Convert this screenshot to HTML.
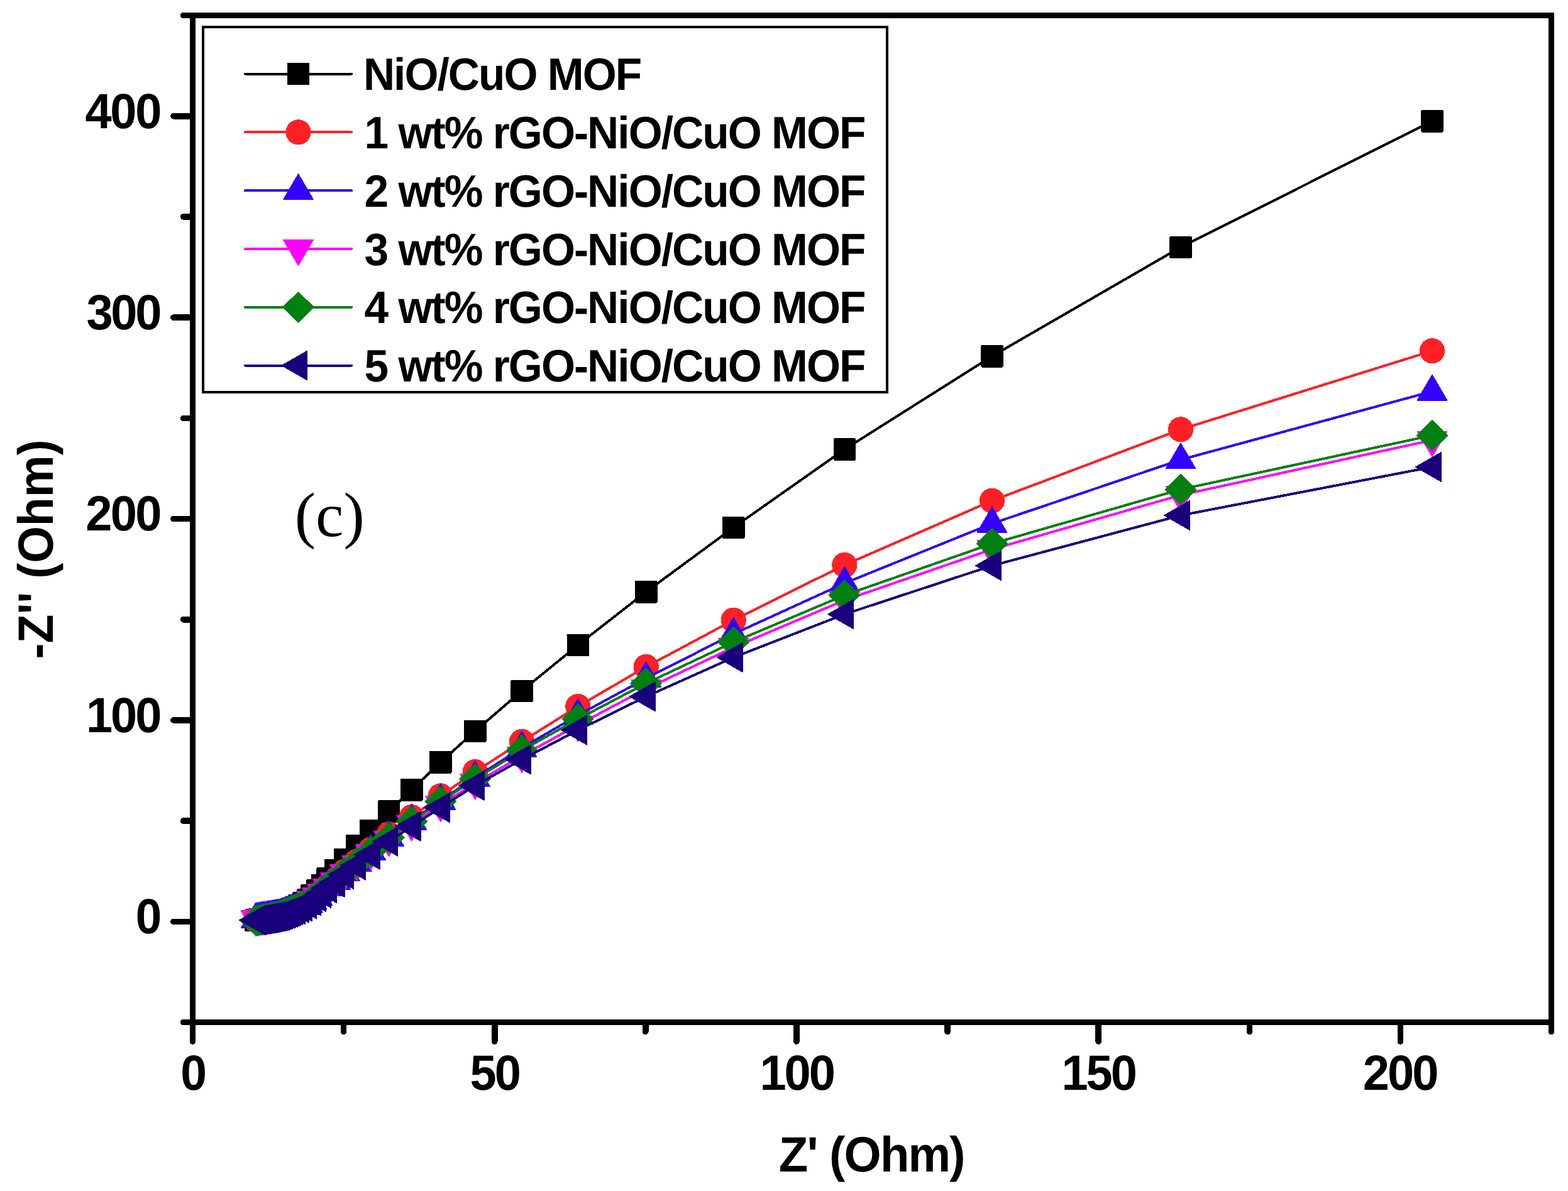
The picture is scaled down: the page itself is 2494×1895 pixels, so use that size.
<!DOCTYPE html>
<html lang="en"><head><meta charset="utf-8"><title>Nyquist plot (c)</title>
<style>
html,body{margin:0;padding:0;background:#fff;}
body{width:2494px;height:1895px;overflow:hidden;}
svg{display:block;}
text{font-family:"Liberation Sans",Arial,Helvetica,sans-serif;font-weight:bold;fill:#000;white-space:pre;}
.ann{font-family:"Liberation Serif","Times New Roman",serif;font-weight:normal;font-size:100px;}
</style></head><body>
<svg width="2494" height="1895" viewBox="0 0 2494 1895" shape-rendering="crispEdges" text-rendering="geometricPrecision">
<rect width="2494" height="1895" fill="#fff"/>

<g id="data">
<path d="M2278.0 192.7L1878.0 393.3L1578.0 566.7L1343.3 715.0L1166.7 839.3L1027.7 941.7L919.3 1026.3L830.0 1099.3L755.7 1163.3L700.8 1212.7L654.7 1256.7L618.6 1291.0L589.7 1321.7L567.5 1345.8L548.5 1367.5L533.7 1384.7L521.2 1398.0L512.5 1408.8L504.6 1417.0L495.8 1425.0L489.6 1432.0L482.4 1437.0L476.7 1440.8L471.0 1444.5L467.6 1445.9L464.6 1447.1L461.8 1448.3L459.1 1449.4L456.5 1450.6L453.9 1451.7L451.4 1452.8L448.8 1453.9L446.4 1455.0L443.9 1455.9L441.5 1456.5L439.1 1457.1L436.7 1457.7L434.3 1458.3L432.0 1458.9L429.7 1459.4L427.3 1460.0L425.0 1460.4L422.7 1460.9L420.5 1461.4L418.2 1461.9L415.9 1462.3L413.7 1462.8L411.4 1463.3L409.2 1463.7L407.0 1464.2" fill="none" stroke="#000000" stroke-width="4.0" stroke-linejoin="round" stroke-linecap="round"/>
<rect x="2260.2" y="174.9" width="35.6" height="35.6" rx="2" fill="#000000"/>
<rect x="1860.2" y="375.5" width="35.6" height="35.6" rx="2" fill="#000000"/>
<rect x="1560.2" y="548.9" width="35.6" height="35.6" rx="2" fill="#000000"/>
<rect x="1325.5" y="697.2" width="35.6" height="35.6" rx="2" fill="#000000"/>
<rect x="1148.9" y="821.5" width="35.6" height="35.6" rx="2" fill="#000000"/>
<rect x="1009.9" y="923.9" width="35.6" height="35.6" rx="2" fill="#000000"/>
<rect x="901.5" y="1008.5" width="35.6" height="35.6" rx="2" fill="#000000"/>
<rect x="812.2" y="1081.5" width="35.6" height="35.6" rx="2" fill="#000000"/>
<rect x="737.9" y="1145.5" width="35.6" height="35.6" rx="2" fill="#000000"/>
<rect x="683.0" y="1194.9" width="35.6" height="35.6" rx="2" fill="#000000"/>
<rect x="636.9" y="1238.9" width="35.6" height="35.6" rx="2" fill="#000000"/>
<rect x="600.8" y="1273.2" width="35.6" height="35.6" rx="2" fill="#000000"/>
<rect x="571.9" y="1303.9" width="35.6" height="35.6" rx="2" fill="#000000"/>
<rect x="549.7" y="1328.0" width="35.6" height="35.6" rx="2" fill="#000000"/>
<rect x="530.7" y="1349.7" width="35.6" height="35.6" rx="2" fill="#000000"/>
<rect x="515.9" y="1366.9" width="35.6" height="35.6" rx="2" fill="#000000"/>
<rect x="503.4" y="1380.2" width="35.6" height="35.6" rx="2" fill="#000000"/>
<rect x="494.7" y="1391.0" width="35.6" height="35.6" rx="2" fill="#000000"/>
<rect x="486.8" y="1399.2" width="35.6" height="35.6" rx="2" fill="#000000"/>
<rect x="478.0" y="1407.2" width="35.6" height="35.6" rx="2" fill="#000000"/>
<rect x="471.8" y="1414.2" width="35.6" height="35.6" rx="2" fill="#000000"/>
<rect x="464.6" y="1419.2" width="35.6" height="35.6" rx="2" fill="#000000"/>
<rect x="458.9" y="1423.0" width="35.6" height="35.6" rx="2" fill="#000000"/>
<rect x="453.2" y="1426.7" width="35.6" height="35.6" rx="2" fill="#000000"/>
<rect x="449.8" y="1428.1" width="35.6" height="35.6" rx="2" fill="#000000"/>
<rect x="446.8" y="1429.3" width="35.6" height="35.6" rx="2" fill="#000000"/>
<rect x="444.0" y="1430.5" width="35.6" height="35.6" rx="2" fill="#000000"/>
<rect x="441.3" y="1431.6" width="35.6" height="35.6" rx="2" fill="#000000"/>
<rect x="438.7" y="1432.8" width="35.6" height="35.6" rx="2" fill="#000000"/>
<rect x="436.1" y="1433.9" width="35.6" height="35.6" rx="2" fill="#000000"/>
<rect x="433.6" y="1435.0" width="35.6" height="35.6" rx="2" fill="#000000"/>
<rect x="431.0" y="1436.1" width="35.6" height="35.6" rx="2" fill="#000000"/>
<rect x="428.6" y="1437.2" width="35.6" height="35.6" rx="2" fill="#000000"/>
<rect x="426.1" y="1438.1" width="35.6" height="35.6" rx="2" fill="#000000"/>
<rect x="423.7" y="1438.7" width="35.6" height="35.6" rx="2" fill="#000000"/>
<rect x="421.3" y="1439.3" width="35.6" height="35.6" rx="2" fill="#000000"/>
<rect x="418.9" y="1439.9" width="35.6" height="35.6" rx="2" fill="#000000"/>
<rect x="416.5" y="1440.5" width="35.6" height="35.6" rx="2" fill="#000000"/>
<rect x="414.2" y="1441.1" width="35.6" height="35.6" rx="2" fill="#000000"/>
<rect x="411.9" y="1441.6" width="35.6" height="35.6" rx="2" fill="#000000"/>
<rect x="409.5" y="1442.2" width="35.6" height="35.6" rx="2" fill="#000000"/>
<rect x="407.2" y="1442.6" width="35.6" height="35.6" rx="2" fill="#000000"/>
<rect x="404.9" y="1443.1" width="35.6" height="35.6" rx="2" fill="#000000"/>
<rect x="402.7" y="1443.6" width="35.6" height="35.6" rx="2" fill="#000000"/>
<rect x="400.4" y="1444.1" width="35.6" height="35.6" rx="2" fill="#000000"/>
<rect x="398.1" y="1444.5" width="35.6" height="35.6" rx="2" fill="#000000"/>
<rect x="395.9" y="1445.0" width="35.6" height="35.6" rx="2" fill="#000000"/>
<rect x="393.6" y="1445.5" width="35.6" height="35.6" rx="2" fill="#000000"/>
<rect x="391.4" y="1445.9" width="35.6" height="35.6" rx="2" fill="#000000"/>
<rect x="389.2" y="1446.4" width="35.6" height="35.6" rx="2" fill="#000000"/>
<path d="M2278.0 558.3L1878.0 683.3L1578.0 796.7L1343.3 899.0L1166.7 986.7L1027.7 1061.0L919.3 1124.0L830.0 1180.0L755.7 1228.0L700.8 1266.3L654.7 1300.0L618.6 1327.3L589.7 1351.7L567.5 1370.7L548.5 1386.3L533.7 1400.2L521.2 1410.2L512.5 1418.9L504.6 1425.5L495.8 1431.8L489.6 1437.6L482.4 1441.4L476.7 1444.1L471.0 1446.8L467.6 1448.0L464.6 1449.1L461.8 1450.2L459.1 1451.3L456.5 1452.3L453.9 1453.3L451.4 1454.4L448.8 1455.4L446.4 1456.4L443.9 1457.1L441.5 1457.6L439.1 1458.1L436.7 1458.6L434.3 1459.1L432.0 1459.6L429.7 1460.1L427.3 1460.6L425.0 1460.9L422.7 1461.3L420.5 1461.7L418.2 1462.1L415.9 1462.5L413.7 1462.9L411.4 1463.2L409.2 1463.6L407.0 1464.0" fill="none" stroke="#FF2026" stroke-width="4.0" stroke-linejoin="round" stroke-linecap="round"/>
<circle cx="2278.0" cy="558.3" r="20.1" fill="#FF2026"/>
<circle cx="1878.0" cy="683.3" r="20.1" fill="#FF2026"/>
<circle cx="1578.0" cy="796.7" r="20.1" fill="#FF2026"/>
<circle cx="1343.3" cy="899.0" r="20.1" fill="#FF2026"/>
<circle cx="1166.7" cy="986.7" r="20.1" fill="#FF2026"/>
<circle cx="1027.7" cy="1061.0" r="20.1" fill="#FF2026"/>
<circle cx="919.3" cy="1124.0" r="20.1" fill="#FF2026"/>
<circle cx="830.0" cy="1180.0" r="20.1" fill="#FF2026"/>
<circle cx="755.7" cy="1228.0" r="20.1" fill="#FF2026"/>
<circle cx="700.8" cy="1266.3" r="20.1" fill="#FF2026"/>
<circle cx="654.7" cy="1300.0" r="20.1" fill="#FF2026"/>
<circle cx="618.6" cy="1327.3" r="20.1" fill="#FF2026"/>
<circle cx="589.7" cy="1351.7" r="20.1" fill="#FF2026"/>
<circle cx="567.5" cy="1370.7" r="20.1" fill="#FF2026"/>
<circle cx="548.5" cy="1386.3" r="20.1" fill="#FF2026"/>
<circle cx="533.7" cy="1400.2" r="20.1" fill="#FF2026"/>
<circle cx="521.2" cy="1410.2" r="20.1" fill="#FF2026"/>
<circle cx="512.5" cy="1418.9" r="20.1" fill="#FF2026"/>
<circle cx="504.6" cy="1425.5" r="20.1" fill="#FF2026"/>
<circle cx="495.8" cy="1431.8" r="20.1" fill="#FF2026"/>
<circle cx="489.6" cy="1437.6" r="20.1" fill="#FF2026"/>
<circle cx="482.4" cy="1441.4" r="20.1" fill="#FF2026"/>
<circle cx="476.7" cy="1444.1" r="20.1" fill="#FF2026"/>
<circle cx="471.0" cy="1446.8" r="20.1" fill="#FF2026"/>
<circle cx="467.6" cy="1448.0" r="20.1" fill="#FF2026"/>
<circle cx="464.6" cy="1449.1" r="20.1" fill="#FF2026"/>
<circle cx="461.8" cy="1450.2" r="20.1" fill="#FF2026"/>
<circle cx="459.1" cy="1451.3" r="20.1" fill="#FF2026"/>
<circle cx="456.5" cy="1452.3" r="20.1" fill="#FF2026"/>
<circle cx="453.9" cy="1453.3" r="20.1" fill="#FF2026"/>
<circle cx="451.4" cy="1454.4" r="20.1" fill="#FF2026"/>
<circle cx="448.8" cy="1455.4" r="20.1" fill="#FF2026"/>
<circle cx="446.4" cy="1456.4" r="20.1" fill="#FF2026"/>
<circle cx="443.9" cy="1457.1" r="20.1" fill="#FF2026"/>
<circle cx="441.5" cy="1457.6" r="20.1" fill="#FF2026"/>
<circle cx="439.1" cy="1458.1" r="20.1" fill="#FF2026"/>
<circle cx="436.7" cy="1458.6" r="20.1" fill="#FF2026"/>
<circle cx="434.3" cy="1459.1" r="20.1" fill="#FF2026"/>
<circle cx="432.0" cy="1459.6" r="20.1" fill="#FF2026"/>
<circle cx="429.7" cy="1460.1" r="20.1" fill="#FF2026"/>
<circle cx="427.3" cy="1460.6" r="20.1" fill="#FF2026"/>
<circle cx="425.0" cy="1460.9" r="20.1" fill="#FF2026"/>
<circle cx="422.7" cy="1461.3" r="20.1" fill="#FF2026"/>
<circle cx="420.5" cy="1461.7" r="20.1" fill="#FF2026"/>
<circle cx="418.2" cy="1462.1" r="20.1" fill="#FF2026"/>
<circle cx="415.9" cy="1462.5" r="20.1" fill="#FF2026"/>
<circle cx="413.7" cy="1462.9" r="20.1" fill="#FF2026"/>
<circle cx="411.4" cy="1463.2" r="20.1" fill="#FF2026"/>
<circle cx="409.2" cy="1463.6" r="20.1" fill="#FF2026"/>
<circle cx="407.0" cy="1464.0" r="20.1" fill="#FF2026"/>
<path d="M2278.0 622.7L1878.0 731.5L1578.0 833.0L1343.3 928.0L1166.7 1008.7L1027.7 1079.3L919.3 1138.0L830.0 1190.0L755.7 1237.3L700.8 1273.7L654.7 1305.8L618.6 1331.8L589.7 1354.0L567.5 1372.4L548.5 1387.5L533.7 1401.0L521.2 1410.8L512.5 1419.3L504.6 1425.8L495.8 1432.0L489.6 1437.7L482.4 1441.5L476.7 1444.2L471.0 1446.8L467.6 1448.0L464.6 1449.0L461.8 1450.0L459.1 1451.0L456.5 1452.0L453.9 1453.0L451.4 1453.9L448.8 1454.9L446.4 1455.8L443.9 1456.5L441.5 1457.0L439.1 1457.4L436.7 1457.8L434.3 1458.3L432.0 1458.7L429.7 1459.1L427.3 1459.5L425.0 1459.9L422.7 1460.2L420.5 1460.5L418.2 1460.9L415.9 1461.2L413.7 1461.5L411.4 1461.9L409.2 1462.2L407.0 1462.5" fill="none" stroke="#3300FF" stroke-width="4.0" stroke-linejoin="round" stroke-linecap="round"/>
<path d="M2278.0 596.2L2301.8 636.9L2254.2 636.9Z" fill="#3300FF" stroke="#3300FF" stroke-width="1.2" stroke-linejoin="round"/>
<path d="M1878.0 705.0L1901.8 745.7L1854.2 745.7Z" fill="#3300FF" stroke="#3300FF" stroke-width="1.2" stroke-linejoin="round"/>
<path d="M1578.0 806.5L1601.8 847.2L1554.2 847.2Z" fill="#3300FF" stroke="#3300FF" stroke-width="1.2" stroke-linejoin="round"/>
<path d="M1343.3 901.5L1367.1 942.2L1319.5 942.2Z" fill="#3300FF" stroke="#3300FF" stroke-width="1.2" stroke-linejoin="round"/>
<path d="M1166.7 982.2L1190.5 1022.9L1142.9 1022.9Z" fill="#3300FF" stroke="#3300FF" stroke-width="1.2" stroke-linejoin="round"/>
<path d="M1027.7 1052.8L1051.5 1093.5L1003.9 1093.5Z" fill="#3300FF" stroke="#3300FF" stroke-width="1.2" stroke-linejoin="round"/>
<path d="M919.3 1111.5L943.1 1152.2L895.5 1152.2Z" fill="#3300FF" stroke="#3300FF" stroke-width="1.2" stroke-linejoin="round"/>
<path d="M830.0 1163.5L853.8 1204.2L806.2 1204.2Z" fill="#3300FF" stroke="#3300FF" stroke-width="1.2" stroke-linejoin="round"/>
<path d="M755.7 1210.8L779.5 1251.5L731.9 1251.5Z" fill="#3300FF" stroke="#3300FF" stroke-width="1.2" stroke-linejoin="round"/>
<path d="M700.8 1247.2L724.6 1287.9L677.0 1287.9Z" fill="#3300FF" stroke="#3300FF" stroke-width="1.2" stroke-linejoin="round"/>
<path d="M654.7 1279.3L678.5 1320.0L630.9 1320.0Z" fill="#3300FF" stroke="#3300FF" stroke-width="1.2" stroke-linejoin="round"/>
<path d="M618.6 1305.3L642.4 1346.0L594.8 1346.0Z" fill="#3300FF" stroke="#3300FF" stroke-width="1.2" stroke-linejoin="round"/>
<path d="M589.7 1327.5L613.5 1368.2L565.9 1368.2Z" fill="#3300FF" stroke="#3300FF" stroke-width="1.2" stroke-linejoin="round"/>
<path d="M567.5 1345.9L591.3 1386.6L543.7 1386.6Z" fill="#3300FF" stroke="#3300FF" stroke-width="1.2" stroke-linejoin="round"/>
<path d="M548.5 1361.0L572.3 1401.7L524.7 1401.7Z" fill="#3300FF" stroke="#3300FF" stroke-width="1.2" stroke-linejoin="round"/>
<path d="M533.7 1374.5L557.5 1415.2L509.9 1415.2Z" fill="#3300FF" stroke="#3300FF" stroke-width="1.2" stroke-linejoin="round"/>
<path d="M521.2 1384.3L545.0 1425.0L497.4 1425.0Z" fill="#3300FF" stroke="#3300FF" stroke-width="1.2" stroke-linejoin="round"/>
<path d="M512.5 1392.8L536.3 1433.5L488.7 1433.5Z" fill="#3300FF" stroke="#3300FF" stroke-width="1.2" stroke-linejoin="round"/>
<path d="M504.6 1399.3L528.4 1440.0L480.8 1440.0Z" fill="#3300FF" stroke="#3300FF" stroke-width="1.2" stroke-linejoin="round"/>
<path d="M495.8 1405.5L519.6 1446.2L472.0 1446.2Z" fill="#3300FF" stroke="#3300FF" stroke-width="1.2" stroke-linejoin="round"/>
<path d="M489.6 1411.2L513.4 1451.9L465.8 1451.9Z" fill="#3300FF" stroke="#3300FF" stroke-width="1.2" stroke-linejoin="round"/>
<path d="M482.4 1415.0L506.2 1455.7L458.6 1455.7Z" fill="#3300FF" stroke="#3300FF" stroke-width="1.2" stroke-linejoin="round"/>
<path d="M476.7 1417.7L500.5 1458.4L452.9 1458.4Z" fill="#3300FF" stroke="#3300FF" stroke-width="1.2" stroke-linejoin="round"/>
<path d="M471.0 1420.3L494.8 1461.0L447.2 1461.0Z" fill="#3300FF" stroke="#3300FF" stroke-width="1.2" stroke-linejoin="round"/>
<path d="M467.6 1421.5L491.4 1462.2L443.8 1462.2Z" fill="#3300FF" stroke="#3300FF" stroke-width="1.2" stroke-linejoin="round"/>
<path d="M464.6 1422.5L488.4 1463.2L440.8 1463.2Z" fill="#3300FF" stroke="#3300FF" stroke-width="1.2" stroke-linejoin="round"/>
<path d="M461.8 1423.5L485.6 1464.2L438.0 1464.2Z" fill="#3300FF" stroke="#3300FF" stroke-width="1.2" stroke-linejoin="round"/>
<path d="M459.1 1424.5L482.9 1465.2L435.3 1465.2Z" fill="#3300FF" stroke="#3300FF" stroke-width="1.2" stroke-linejoin="round"/>
<path d="M456.5 1425.5L480.3 1466.2L432.7 1466.2Z" fill="#3300FF" stroke="#3300FF" stroke-width="1.2" stroke-linejoin="round"/>
<path d="M453.9 1426.5L477.7 1467.2L430.1 1467.2Z" fill="#3300FF" stroke="#3300FF" stroke-width="1.2" stroke-linejoin="round"/>
<path d="M451.4 1427.4L475.2 1468.1L427.6 1468.1Z" fill="#3300FF" stroke="#3300FF" stroke-width="1.2" stroke-linejoin="round"/>
<path d="M448.8 1428.4L472.6 1469.1L425.0 1469.1Z" fill="#3300FF" stroke="#3300FF" stroke-width="1.2" stroke-linejoin="round"/>
<path d="M446.4 1429.3L470.2 1470.0L422.6 1470.0Z" fill="#3300FF" stroke="#3300FF" stroke-width="1.2" stroke-linejoin="round"/>
<path d="M443.9 1430.0L467.7 1470.7L420.1 1470.7Z" fill="#3300FF" stroke="#3300FF" stroke-width="1.2" stroke-linejoin="round"/>
<path d="M441.5 1430.5L465.3 1471.2L417.7 1471.2Z" fill="#3300FF" stroke="#3300FF" stroke-width="1.2" stroke-linejoin="round"/>
<path d="M439.1 1430.9L462.9 1471.6L415.3 1471.6Z" fill="#3300FF" stroke="#3300FF" stroke-width="1.2" stroke-linejoin="round"/>
<path d="M436.7 1431.3L460.5 1472.0L412.9 1472.0Z" fill="#3300FF" stroke="#3300FF" stroke-width="1.2" stroke-linejoin="round"/>
<path d="M434.3 1431.8L458.1 1472.5L410.5 1472.5Z" fill="#3300FF" stroke="#3300FF" stroke-width="1.2" stroke-linejoin="round"/>
<path d="M432.0 1432.2L455.8 1472.9L408.2 1472.9Z" fill="#3300FF" stroke="#3300FF" stroke-width="1.2" stroke-linejoin="round"/>
<path d="M429.7 1432.6L453.5 1473.3L405.9 1473.3Z" fill="#3300FF" stroke="#3300FF" stroke-width="1.2" stroke-linejoin="round"/>
<path d="M427.3 1433.0L451.1 1473.7L403.5 1473.7Z" fill="#3300FF" stroke="#3300FF" stroke-width="1.2" stroke-linejoin="round"/>
<path d="M425.0 1433.4L448.8 1474.1L401.2 1474.1Z" fill="#3300FF" stroke="#3300FF" stroke-width="1.2" stroke-linejoin="round"/>
<path d="M422.7 1433.7L446.5 1474.4L398.9 1474.4Z" fill="#3300FF" stroke="#3300FF" stroke-width="1.2" stroke-linejoin="round"/>
<path d="M420.5 1434.0L444.3 1474.7L396.7 1474.7Z" fill="#3300FF" stroke="#3300FF" stroke-width="1.2" stroke-linejoin="round"/>
<path d="M418.2 1434.4L442.0 1475.1L394.4 1475.1Z" fill="#3300FF" stroke="#3300FF" stroke-width="1.2" stroke-linejoin="round"/>
<path d="M415.9 1434.7L439.7 1475.4L392.1 1475.4Z" fill="#3300FF" stroke="#3300FF" stroke-width="1.2" stroke-linejoin="round"/>
<path d="M413.7 1435.0L437.5 1475.7L389.9 1475.7Z" fill="#3300FF" stroke="#3300FF" stroke-width="1.2" stroke-linejoin="round"/>
<path d="M411.4 1435.4L435.2 1476.1L387.6 1476.1Z" fill="#3300FF" stroke="#3300FF" stroke-width="1.2" stroke-linejoin="round"/>
<path d="M409.2 1435.7L433.0 1476.4L385.4 1476.4Z" fill="#3300FF" stroke="#3300FF" stroke-width="1.2" stroke-linejoin="round"/>
<path d="M407.0 1436.0L430.8 1476.7L383.2 1476.7Z" fill="#3300FF" stroke="#3300FF" stroke-width="1.2" stroke-linejoin="round"/>
<path d="M2278.0 700.3L1878.0 787.7L1578.0 874.0L1343.3 955.0L1166.7 1030.0L1027.7 1096.0L919.3 1153.3L830.0 1202.8L755.7 1245.8L700.8 1281.0L654.7 1311.6L618.6 1336.4L589.7 1357.8L567.5 1375.4L548.5 1389.9L533.7 1403.0L521.2 1412.4L512.5 1420.5L504.6 1426.8L495.8 1432.8L489.6 1438.4L482.4 1442.0L476.7 1444.6L471.0 1447.1L467.6 1448.3L464.6 1449.4L461.8 1450.4L459.1 1451.4L456.5 1452.4L453.9 1453.4L451.4 1454.4L448.8 1455.3L446.4 1456.3L443.9 1457.0L441.5 1457.5L439.1 1457.9L436.7 1458.4L434.3 1458.8L432.0 1459.3L429.7 1459.7L427.3 1460.1L425.0 1460.5L422.7 1460.8L420.5 1461.2L418.2 1461.5L415.9 1461.8L413.7 1462.2L411.4 1462.5L409.2 1462.9L407.0 1463.2" fill="none" stroke="#FF00FF" stroke-width="4.0" stroke-linejoin="round" stroke-linecap="round"/>
<path d="M2278.0 726.8L2301.8 686.1L2254.2 686.1Z" fill="#FF00FF" stroke="#FF00FF" stroke-width="1.2" stroke-linejoin="round"/>
<path d="M1878.0 814.2L1901.8 773.5L1854.2 773.5Z" fill="#FF00FF" stroke="#FF00FF" stroke-width="1.2" stroke-linejoin="round"/>
<path d="M1578.0 900.5L1601.8 859.8L1554.2 859.8Z" fill="#FF00FF" stroke="#FF00FF" stroke-width="1.2" stroke-linejoin="round"/>
<path d="M1343.3 981.5L1367.1 940.8L1319.5 940.8Z" fill="#FF00FF" stroke="#FF00FF" stroke-width="1.2" stroke-linejoin="round"/>
<path d="M1166.7 1056.5L1190.5 1015.8L1142.9 1015.8Z" fill="#FF00FF" stroke="#FF00FF" stroke-width="1.2" stroke-linejoin="round"/>
<path d="M1027.7 1122.5L1051.5 1081.8L1003.9 1081.8Z" fill="#FF00FF" stroke="#FF00FF" stroke-width="1.2" stroke-linejoin="round"/>
<path d="M919.3 1179.8L943.1 1139.1L895.5 1139.1Z" fill="#FF00FF" stroke="#FF00FF" stroke-width="1.2" stroke-linejoin="round"/>
<path d="M830.0 1229.3L853.8 1188.6L806.2 1188.6Z" fill="#FF00FF" stroke="#FF00FF" stroke-width="1.2" stroke-linejoin="round"/>
<path d="M755.7 1272.3L779.5 1231.6L731.9 1231.6Z" fill="#FF00FF" stroke="#FF00FF" stroke-width="1.2" stroke-linejoin="round"/>
<path d="M700.8 1307.5L724.6 1266.8L677.0 1266.8Z" fill="#FF00FF" stroke="#FF00FF" stroke-width="1.2" stroke-linejoin="round"/>
<path d="M654.7 1338.1L678.5 1297.4L630.9 1297.4Z" fill="#FF00FF" stroke="#FF00FF" stroke-width="1.2" stroke-linejoin="round"/>
<path d="M618.6 1362.9L642.4 1322.2L594.8 1322.2Z" fill="#FF00FF" stroke="#FF00FF" stroke-width="1.2" stroke-linejoin="round"/>
<path d="M589.7 1384.3L613.5 1343.6L565.9 1343.6Z" fill="#FF00FF" stroke="#FF00FF" stroke-width="1.2" stroke-linejoin="round"/>
<path d="M567.5 1401.9L591.3 1361.2L543.7 1361.2Z" fill="#FF00FF" stroke="#FF00FF" stroke-width="1.2" stroke-linejoin="round"/>
<path d="M548.5 1416.4L572.3 1375.7L524.7 1375.7Z" fill="#FF00FF" stroke="#FF00FF" stroke-width="1.2" stroke-linejoin="round"/>
<path d="M533.7 1429.5L557.5 1388.8L509.9 1388.8Z" fill="#FF00FF" stroke="#FF00FF" stroke-width="1.2" stroke-linejoin="round"/>
<path d="M521.2 1438.9L545.0 1398.2L497.4 1398.2Z" fill="#FF00FF" stroke="#FF00FF" stroke-width="1.2" stroke-linejoin="round"/>
<path d="M512.5 1447.0L536.3 1406.3L488.7 1406.3Z" fill="#FF00FF" stroke="#FF00FF" stroke-width="1.2" stroke-linejoin="round"/>
<path d="M504.6 1453.3L528.4 1412.6L480.8 1412.6Z" fill="#FF00FF" stroke="#FF00FF" stroke-width="1.2" stroke-linejoin="round"/>
<path d="M495.8 1459.3L519.6 1418.6L472.0 1418.6Z" fill="#FF00FF" stroke="#FF00FF" stroke-width="1.2" stroke-linejoin="round"/>
<path d="M489.6 1464.9L513.4 1424.2L465.8 1424.2Z" fill="#FF00FF" stroke="#FF00FF" stroke-width="1.2" stroke-linejoin="round"/>
<path d="M482.4 1468.5L506.2 1427.8L458.6 1427.8Z" fill="#FF00FF" stroke="#FF00FF" stroke-width="1.2" stroke-linejoin="round"/>
<path d="M476.7 1471.1L500.5 1430.4L452.9 1430.4Z" fill="#FF00FF" stroke="#FF00FF" stroke-width="1.2" stroke-linejoin="round"/>
<path d="M471.0 1473.6L494.8 1432.9L447.2 1432.9Z" fill="#FF00FF" stroke="#FF00FF" stroke-width="1.2" stroke-linejoin="round"/>
<path d="M467.6 1474.8L491.4 1434.1L443.8 1434.1Z" fill="#FF00FF" stroke="#FF00FF" stroke-width="1.2" stroke-linejoin="round"/>
<path d="M464.6 1475.9L488.4 1435.2L440.8 1435.2Z" fill="#FF00FF" stroke="#FF00FF" stroke-width="1.2" stroke-linejoin="round"/>
<path d="M461.8 1476.9L485.6 1436.2L438.0 1436.2Z" fill="#FF00FF" stroke="#FF00FF" stroke-width="1.2" stroke-linejoin="round"/>
<path d="M459.1 1477.9L482.9 1437.2L435.3 1437.2Z" fill="#FF00FF" stroke="#FF00FF" stroke-width="1.2" stroke-linejoin="round"/>
<path d="M456.5 1478.9L480.3 1438.2L432.7 1438.2Z" fill="#FF00FF" stroke="#FF00FF" stroke-width="1.2" stroke-linejoin="round"/>
<path d="M453.9 1479.9L477.7 1439.2L430.1 1439.2Z" fill="#FF00FF" stroke="#FF00FF" stroke-width="1.2" stroke-linejoin="round"/>
<path d="M451.4 1480.9L475.2 1440.2L427.6 1440.2Z" fill="#FF00FF" stroke="#FF00FF" stroke-width="1.2" stroke-linejoin="round"/>
<path d="M448.8 1481.8L472.6 1441.1L425.0 1441.1Z" fill="#FF00FF" stroke="#FF00FF" stroke-width="1.2" stroke-linejoin="round"/>
<path d="M446.4 1482.8L470.2 1442.1L422.6 1442.1Z" fill="#FF00FF" stroke="#FF00FF" stroke-width="1.2" stroke-linejoin="round"/>
<path d="M443.9 1483.5L467.7 1442.8L420.1 1442.8Z" fill="#FF00FF" stroke="#FF00FF" stroke-width="1.2" stroke-linejoin="round"/>
<path d="M441.5 1484.0L465.3 1443.3L417.7 1443.3Z" fill="#FF00FF" stroke="#FF00FF" stroke-width="1.2" stroke-linejoin="round"/>
<path d="M439.1 1484.4L462.9 1443.7L415.3 1443.7Z" fill="#FF00FF" stroke="#FF00FF" stroke-width="1.2" stroke-linejoin="round"/>
<path d="M436.7 1484.9L460.5 1444.2L412.9 1444.2Z" fill="#FF00FF" stroke="#FF00FF" stroke-width="1.2" stroke-linejoin="round"/>
<path d="M434.3 1485.3L458.1 1444.6L410.5 1444.6Z" fill="#FF00FF" stroke="#FF00FF" stroke-width="1.2" stroke-linejoin="round"/>
<path d="M432.0 1485.8L455.8 1445.1L408.2 1445.1Z" fill="#FF00FF" stroke="#FF00FF" stroke-width="1.2" stroke-linejoin="round"/>
<path d="M429.7 1486.2L453.5 1445.5L405.9 1445.5Z" fill="#FF00FF" stroke="#FF00FF" stroke-width="1.2" stroke-linejoin="round"/>
<path d="M427.3 1486.6L451.1 1445.9L403.5 1445.9Z" fill="#FF00FF" stroke="#FF00FF" stroke-width="1.2" stroke-linejoin="round"/>
<path d="M425.0 1487.0L448.8 1446.3L401.2 1446.3Z" fill="#FF00FF" stroke="#FF00FF" stroke-width="1.2" stroke-linejoin="round"/>
<path d="M422.7 1487.3L446.5 1446.6L398.9 1446.6Z" fill="#FF00FF" stroke="#FF00FF" stroke-width="1.2" stroke-linejoin="round"/>
<path d="M420.5 1487.7L444.3 1447.0L396.7 1447.0Z" fill="#FF00FF" stroke="#FF00FF" stroke-width="1.2" stroke-linejoin="round"/>
<path d="M418.2 1488.0L442.0 1447.3L394.4 1447.3Z" fill="#FF00FF" stroke="#FF00FF" stroke-width="1.2" stroke-linejoin="round"/>
<path d="M415.9 1488.3L439.7 1447.6L392.1 1447.6Z" fill="#FF00FF" stroke="#FF00FF" stroke-width="1.2" stroke-linejoin="round"/>
<path d="M413.7 1488.7L437.5 1448.0L389.9 1448.0Z" fill="#FF00FF" stroke="#FF00FF" stroke-width="1.2" stroke-linejoin="round"/>
<path d="M411.4 1489.0L435.2 1448.3L387.6 1448.3Z" fill="#FF00FF" stroke="#FF00FF" stroke-width="1.2" stroke-linejoin="round"/>
<path d="M409.2 1489.4L433.0 1448.7L385.4 1448.7Z" fill="#FF00FF" stroke="#FF00FF" stroke-width="1.2" stroke-linejoin="round"/>
<path d="M407.0 1489.7L430.8 1449.0L383.2 1449.0Z" fill="#FF00FF" stroke="#FF00FF" stroke-width="1.2" stroke-linejoin="round"/>
<path d="M2278.0 692.7L1878.0 778.7L1578.0 865.0L1343.3 947.0L1166.7 1021.7L1027.7 1087.3L919.3 1144.0L830.0 1194.0L755.7 1239.5L700.8 1275.3L654.7 1307.0L618.6 1332.8L589.7 1354.8L567.5 1373.0L548.5 1388.0L533.7 1401.5L521.2 1411.2L512.5 1419.6L504.6 1426.0L495.8 1432.2L489.6 1437.9L482.4 1441.6L476.7 1444.3L471.0 1446.9L467.6 1448.2L464.6 1449.3L461.8 1450.4L459.1 1451.5L456.5 1452.5L453.9 1453.6L451.4 1454.6L448.8 1455.7L446.4 1456.7L443.9 1457.5L441.5 1458.0L439.1 1458.5L436.7 1459.1L434.3 1459.6L432.0 1460.1L429.7 1460.6L427.3 1461.1L425.0 1461.5L422.7 1461.9L420.5 1462.3L418.2 1462.7L415.9 1463.1L413.7 1463.5L411.4 1463.9L409.2 1464.3L407.0 1464.7" fill="none" stroke="#008010" stroke-width="4.0" stroke-linejoin="round" stroke-linecap="round"/>
<path d="M2278.0 668.5L2302.7 692.7L2278.0 716.9L2253.3 692.7Z" fill="#008010" stroke="#008010" stroke-width="1.2" stroke-linejoin="round"/>
<path d="M1878.0 754.5L1902.7 778.7L1878.0 802.9L1853.3 778.7Z" fill="#008010" stroke="#008010" stroke-width="1.2" stroke-linejoin="round"/>
<path d="M1578.0 840.8L1602.7 865.0L1578.0 889.2L1553.3 865.0Z" fill="#008010" stroke="#008010" stroke-width="1.2" stroke-linejoin="round"/>
<path d="M1343.3 922.8L1368.0 947.0L1343.3 971.2L1318.6 947.0Z" fill="#008010" stroke="#008010" stroke-width="1.2" stroke-linejoin="round"/>
<path d="M1166.7 997.5L1191.4 1021.7L1166.7 1045.9L1142.0 1021.7Z" fill="#008010" stroke="#008010" stroke-width="1.2" stroke-linejoin="round"/>
<path d="M1027.7 1063.1L1052.4 1087.3L1027.7 1111.5L1003.0 1087.3Z" fill="#008010" stroke="#008010" stroke-width="1.2" stroke-linejoin="round"/>
<path d="M919.3 1119.8L944.0 1144.0L919.3 1168.2L894.6 1144.0Z" fill="#008010" stroke="#008010" stroke-width="1.2" stroke-linejoin="round"/>
<path d="M830.0 1169.8L854.7 1194.0L830.0 1218.2L805.3 1194.0Z" fill="#008010" stroke="#008010" stroke-width="1.2" stroke-linejoin="round"/>
<path d="M755.7 1215.3L780.4 1239.5L755.7 1263.7L731.0 1239.5Z" fill="#008010" stroke="#008010" stroke-width="1.2" stroke-linejoin="round"/>
<path d="M700.8 1251.1L725.5 1275.3L700.8 1299.5L676.1 1275.3Z" fill="#008010" stroke="#008010" stroke-width="1.2" stroke-linejoin="round"/>
<path d="M654.7 1282.8L679.4 1307.0L654.7 1331.2L630.0 1307.0Z" fill="#008010" stroke="#008010" stroke-width="1.2" stroke-linejoin="round"/>
<path d="M618.6 1308.6L643.3 1332.8L618.6 1357.0L593.9 1332.8Z" fill="#008010" stroke="#008010" stroke-width="1.2" stroke-linejoin="round"/>
<path d="M589.7 1330.6L614.4 1354.8L589.7 1379.0L565.0 1354.8Z" fill="#008010" stroke="#008010" stroke-width="1.2" stroke-linejoin="round"/>
<path d="M567.5 1348.8L592.2 1373.0L567.5 1397.2L542.8 1373.0Z" fill="#008010" stroke="#008010" stroke-width="1.2" stroke-linejoin="round"/>
<path d="M548.5 1363.8L573.2 1388.0L548.5 1412.2L523.8 1388.0Z" fill="#008010" stroke="#008010" stroke-width="1.2" stroke-linejoin="round"/>
<path d="M533.7 1377.3L558.4 1401.5L533.7 1425.7L509.0 1401.5Z" fill="#008010" stroke="#008010" stroke-width="1.2" stroke-linejoin="round"/>
<path d="M521.2 1387.0L545.9 1411.2L521.2 1435.4L496.5 1411.2Z" fill="#008010" stroke="#008010" stroke-width="1.2" stroke-linejoin="round"/>
<path d="M512.5 1395.4L537.2 1419.6L512.5 1443.8L487.8 1419.6Z" fill="#008010" stroke="#008010" stroke-width="1.2" stroke-linejoin="round"/>
<path d="M504.6 1401.8L529.3 1426.0L504.6 1450.2L479.9 1426.0Z" fill="#008010" stroke="#008010" stroke-width="1.2" stroke-linejoin="round"/>
<path d="M495.8 1408.0L520.5 1432.2L495.8 1456.4L471.1 1432.2Z" fill="#008010" stroke="#008010" stroke-width="1.2" stroke-linejoin="round"/>
<path d="M489.6 1413.7L514.3 1437.9L489.6 1462.1L464.9 1437.9Z" fill="#008010" stroke="#008010" stroke-width="1.2" stroke-linejoin="round"/>
<path d="M482.4 1417.4L507.1 1441.6L482.4 1465.8L457.7 1441.6Z" fill="#008010" stroke="#008010" stroke-width="1.2" stroke-linejoin="round"/>
<path d="M476.7 1420.1L501.4 1444.3L476.7 1468.5L452.0 1444.3Z" fill="#008010" stroke="#008010" stroke-width="1.2" stroke-linejoin="round"/>
<path d="M471.0 1422.7L495.7 1446.9L471.0 1471.1L446.3 1446.9Z" fill="#008010" stroke="#008010" stroke-width="1.2" stroke-linejoin="round"/>
<path d="M467.6 1424.0L492.3 1448.2L467.6 1472.4L442.9 1448.2Z" fill="#008010" stroke="#008010" stroke-width="1.2" stroke-linejoin="round"/>
<path d="M464.6 1425.1L489.3 1449.3L464.6 1473.5L439.9 1449.3Z" fill="#008010" stroke="#008010" stroke-width="1.2" stroke-linejoin="round"/>
<path d="M461.8 1426.2L486.5 1450.4L461.8 1474.6L437.1 1450.4Z" fill="#008010" stroke="#008010" stroke-width="1.2" stroke-linejoin="round"/>
<path d="M459.1 1427.3L483.8 1451.5L459.1 1475.7L434.4 1451.5Z" fill="#008010" stroke="#008010" stroke-width="1.2" stroke-linejoin="round"/>
<path d="M456.5 1428.3L481.2 1452.5L456.5 1476.7L431.8 1452.5Z" fill="#008010" stroke="#008010" stroke-width="1.2" stroke-linejoin="round"/>
<path d="M453.9 1429.4L478.6 1453.6L453.9 1477.8L429.2 1453.6Z" fill="#008010" stroke="#008010" stroke-width="1.2" stroke-linejoin="round"/>
<path d="M451.4 1430.4L476.1 1454.6L451.4 1478.8L426.7 1454.6Z" fill="#008010" stroke="#008010" stroke-width="1.2" stroke-linejoin="round"/>
<path d="M448.8 1431.5L473.5 1455.7L448.8 1479.9L424.1 1455.7Z" fill="#008010" stroke="#008010" stroke-width="1.2" stroke-linejoin="round"/>
<path d="M446.4 1432.5L471.1 1456.7L446.4 1480.9L421.7 1456.7Z" fill="#008010" stroke="#008010" stroke-width="1.2" stroke-linejoin="round"/>
<path d="M443.9 1433.3L468.6 1457.5L443.9 1481.7L419.2 1457.5Z" fill="#008010" stroke="#008010" stroke-width="1.2" stroke-linejoin="round"/>
<path d="M441.5 1433.8L466.2 1458.0L441.5 1482.2L416.8 1458.0Z" fill="#008010" stroke="#008010" stroke-width="1.2" stroke-linejoin="round"/>
<path d="M439.1 1434.3L463.8 1458.5L439.1 1482.7L414.4 1458.5Z" fill="#008010" stroke="#008010" stroke-width="1.2" stroke-linejoin="round"/>
<path d="M436.7 1434.9L461.4 1459.1L436.7 1483.3L412.0 1459.1Z" fill="#008010" stroke="#008010" stroke-width="1.2" stroke-linejoin="round"/>
<path d="M434.3 1435.4L459.0 1459.6L434.3 1483.8L409.6 1459.6Z" fill="#008010" stroke="#008010" stroke-width="1.2" stroke-linejoin="round"/>
<path d="M432.0 1435.9L456.7 1460.1L432.0 1484.3L407.3 1460.1Z" fill="#008010" stroke="#008010" stroke-width="1.2" stroke-linejoin="round"/>
<path d="M429.7 1436.4L454.4 1460.6L429.7 1484.8L405.0 1460.6Z" fill="#008010" stroke="#008010" stroke-width="1.2" stroke-linejoin="round"/>
<path d="M427.3 1436.9L452.0 1461.1L427.3 1485.3L402.6 1461.1Z" fill="#008010" stroke="#008010" stroke-width="1.2" stroke-linejoin="round"/>
<path d="M425.0 1437.3L449.7 1461.5L425.0 1485.7L400.3 1461.5Z" fill="#008010" stroke="#008010" stroke-width="1.2" stroke-linejoin="round"/>
<path d="M422.7 1437.7L447.4 1461.9L422.7 1486.1L398.0 1461.9Z" fill="#008010" stroke="#008010" stroke-width="1.2" stroke-linejoin="round"/>
<path d="M420.5 1438.1L445.2 1462.3L420.5 1486.5L395.8 1462.3Z" fill="#008010" stroke="#008010" stroke-width="1.2" stroke-linejoin="round"/>
<path d="M418.2 1438.5L442.9 1462.7L418.2 1486.9L393.5 1462.7Z" fill="#008010" stroke="#008010" stroke-width="1.2" stroke-linejoin="round"/>
<path d="M415.9 1438.9L440.6 1463.1L415.9 1487.3L391.2 1463.1Z" fill="#008010" stroke="#008010" stroke-width="1.2" stroke-linejoin="round"/>
<path d="M413.7 1439.3L438.4 1463.5L413.7 1487.7L389.0 1463.5Z" fill="#008010" stroke="#008010" stroke-width="1.2" stroke-linejoin="round"/>
<path d="M411.4 1439.7L436.1 1463.9L411.4 1488.1L386.7 1463.9Z" fill="#008010" stroke="#008010" stroke-width="1.2" stroke-linejoin="round"/>
<path d="M409.2 1440.1L433.9 1464.3L409.2 1488.5L384.5 1464.3Z" fill="#008010" stroke="#008010" stroke-width="1.2" stroke-linejoin="round"/>
<path d="M407.0 1440.5L431.7 1464.7L407.0 1488.9L382.3 1464.7Z" fill="#008010" stroke="#008010" stroke-width="1.2" stroke-linejoin="round"/>
<path d="M2278.0 743.0L1878.0 820.0L1578.0 900.0L1343.3 977.3L1166.7 1046.0L1027.7 1108.3L919.3 1161.7L830.0 1208.5L755.7 1250.0L700.8 1285.0L654.7 1314.8L618.6 1339.0L589.7 1359.8L567.5 1377.0L548.5 1391.2L533.7 1404.0L521.2 1413.2L512.5 1421.2L504.6 1427.3L495.8 1433.2L489.6 1438.7L482.4 1442.3L476.7 1444.8L471.0 1447.3L467.6 1448.5L464.6 1449.6L461.8 1450.7L459.1 1451.7L456.5 1452.8L453.9 1453.8L451.4 1454.8L448.8 1455.8L446.4 1456.8L443.9 1457.5L441.5 1458.0L439.1 1458.5L436.7 1459.0L434.3 1459.5L432.0 1459.9L429.7 1460.4L427.3 1460.9L425.0 1461.2L422.7 1461.6L420.5 1462.0L418.2 1462.4L415.9 1462.7L413.7 1463.1L411.4 1463.5L409.2 1463.8L407.0 1464.2" fill="none" stroke="#1A007D" stroke-width="4.0" stroke-linejoin="round" stroke-linecap="round"/>
<path d="M2251.5 743.0L2292.2 719.7L2292.2 766.3Z" fill="#1A007D" stroke="#1A007D" stroke-width="1.2" stroke-linejoin="round"/>
<path d="M1851.5 820.0L1892.2 796.7L1892.2 843.3Z" fill="#1A007D" stroke="#1A007D" stroke-width="1.2" stroke-linejoin="round"/>
<path d="M1551.5 900.0L1592.2 876.7L1592.2 923.3Z" fill="#1A007D" stroke="#1A007D" stroke-width="1.2" stroke-linejoin="round"/>
<path d="M1316.8 977.3L1357.5 954.0L1357.5 1000.6Z" fill="#1A007D" stroke="#1A007D" stroke-width="1.2" stroke-linejoin="round"/>
<path d="M1140.2 1046.0L1180.9 1022.7L1180.9 1069.3Z" fill="#1A007D" stroke="#1A007D" stroke-width="1.2" stroke-linejoin="round"/>
<path d="M1001.2 1108.3L1041.9 1085.0L1041.9 1131.6Z" fill="#1A007D" stroke="#1A007D" stroke-width="1.2" stroke-linejoin="round"/>
<path d="M892.8 1161.7L933.5 1138.4L933.5 1185.0Z" fill="#1A007D" stroke="#1A007D" stroke-width="1.2" stroke-linejoin="round"/>
<path d="M803.5 1208.5L844.2 1185.2L844.2 1231.8Z" fill="#1A007D" stroke="#1A007D" stroke-width="1.2" stroke-linejoin="round"/>
<path d="M729.2 1250.0L769.9 1226.7L769.9 1273.3Z" fill="#1A007D" stroke="#1A007D" stroke-width="1.2" stroke-linejoin="round"/>
<path d="M674.3 1285.0L715.0 1261.7L715.0 1308.3Z" fill="#1A007D" stroke="#1A007D" stroke-width="1.2" stroke-linejoin="round"/>
<path d="M628.2 1314.8L668.9 1291.5L668.9 1338.1Z" fill="#1A007D" stroke="#1A007D" stroke-width="1.2" stroke-linejoin="round"/>
<path d="M592.1 1339.0L632.8 1315.7L632.8 1362.3Z" fill="#1A007D" stroke="#1A007D" stroke-width="1.2" stroke-linejoin="round"/>
<path d="M563.2 1359.8L603.9 1336.5L603.9 1383.1Z" fill="#1A007D" stroke="#1A007D" stroke-width="1.2" stroke-linejoin="round"/>
<path d="M541.0 1377.0L581.7 1353.7L581.7 1400.3Z" fill="#1A007D" stroke="#1A007D" stroke-width="1.2" stroke-linejoin="round"/>
<path d="M522.0 1391.2L562.7 1367.9L562.7 1414.5Z" fill="#1A007D" stroke="#1A007D" stroke-width="1.2" stroke-linejoin="round"/>
<path d="M507.2 1404.0L547.9 1380.7L547.9 1427.3Z" fill="#1A007D" stroke="#1A007D" stroke-width="1.2" stroke-linejoin="round"/>
<path d="M494.7 1413.2L535.4 1389.9L535.4 1436.5Z" fill="#1A007D" stroke="#1A007D" stroke-width="1.2" stroke-linejoin="round"/>
<path d="M486.0 1421.2L526.7 1397.9L526.7 1444.5Z" fill="#1A007D" stroke="#1A007D" stroke-width="1.2" stroke-linejoin="round"/>
<path d="M478.1 1427.3L518.8 1404.0L518.8 1450.6Z" fill="#1A007D" stroke="#1A007D" stroke-width="1.2" stroke-linejoin="round"/>
<path d="M469.3 1433.2L510.0 1409.9L510.0 1456.5Z" fill="#1A007D" stroke="#1A007D" stroke-width="1.2" stroke-linejoin="round"/>
<path d="M463.1 1438.7L503.8 1415.4L503.8 1462.0Z" fill="#1A007D" stroke="#1A007D" stroke-width="1.2" stroke-linejoin="round"/>
<path d="M455.9 1442.3L496.6 1419.0L496.6 1465.6Z" fill="#1A007D" stroke="#1A007D" stroke-width="1.2" stroke-linejoin="round"/>
<path d="M450.2 1444.8L490.9 1421.5L490.9 1468.1Z" fill="#1A007D" stroke="#1A007D" stroke-width="1.2" stroke-linejoin="round"/>
<path d="M444.5 1447.3L485.2 1424.0L485.2 1470.6Z" fill="#1A007D" stroke="#1A007D" stroke-width="1.2" stroke-linejoin="round"/>
<path d="M441.1 1448.5L481.8 1425.2L481.8 1471.8Z" fill="#1A007D" stroke="#1A007D" stroke-width="1.2" stroke-linejoin="round"/>
<path d="M438.1 1449.6L478.8 1426.3L478.8 1472.9Z" fill="#1A007D" stroke="#1A007D" stroke-width="1.2" stroke-linejoin="round"/>
<path d="M435.3 1450.7L476.0 1427.4L476.0 1474.0Z" fill="#1A007D" stroke="#1A007D" stroke-width="1.2" stroke-linejoin="round"/>
<path d="M432.6 1451.7L473.3 1428.4L473.3 1475.0Z" fill="#1A007D" stroke="#1A007D" stroke-width="1.2" stroke-linejoin="round"/>
<path d="M430.0 1452.8L470.7 1429.5L470.7 1476.1Z" fill="#1A007D" stroke="#1A007D" stroke-width="1.2" stroke-linejoin="round"/>
<path d="M427.4 1453.8L468.1 1430.5L468.1 1477.1Z" fill="#1A007D" stroke="#1A007D" stroke-width="1.2" stroke-linejoin="round"/>
<path d="M424.9 1454.8L465.6 1431.5L465.6 1478.1Z" fill="#1A007D" stroke="#1A007D" stroke-width="1.2" stroke-linejoin="round"/>
<path d="M422.3 1455.8L463.0 1432.5L463.0 1479.1Z" fill="#1A007D" stroke="#1A007D" stroke-width="1.2" stroke-linejoin="round"/>
<path d="M419.9 1456.8L460.6 1433.5L460.6 1480.1Z" fill="#1A007D" stroke="#1A007D" stroke-width="1.2" stroke-linejoin="round"/>
<path d="M417.4 1457.5L458.1 1434.2L458.1 1480.8Z" fill="#1A007D" stroke="#1A007D" stroke-width="1.2" stroke-linejoin="round"/>
<path d="M415.0 1458.0L455.7 1434.7L455.7 1481.3Z" fill="#1A007D" stroke="#1A007D" stroke-width="1.2" stroke-linejoin="round"/>
<path d="M412.6 1458.5L453.3 1435.2L453.3 1481.8Z" fill="#1A007D" stroke="#1A007D" stroke-width="1.2" stroke-linejoin="round"/>
<path d="M410.2 1459.0L450.9 1435.7L450.9 1482.3Z" fill="#1A007D" stroke="#1A007D" stroke-width="1.2" stroke-linejoin="round"/>
<path d="M407.8 1459.5L448.5 1436.2L448.5 1482.8Z" fill="#1A007D" stroke="#1A007D" stroke-width="1.2" stroke-linejoin="round"/>
<path d="M405.5 1459.9L446.2 1436.6L446.2 1483.2Z" fill="#1A007D" stroke="#1A007D" stroke-width="1.2" stroke-linejoin="round"/>
<path d="M403.2 1460.4L443.9 1437.1L443.9 1483.7Z" fill="#1A007D" stroke="#1A007D" stroke-width="1.2" stroke-linejoin="round"/>
<path d="M400.8 1460.9L441.5 1437.6L441.5 1484.2Z" fill="#1A007D" stroke="#1A007D" stroke-width="1.2" stroke-linejoin="round"/>
<path d="M398.5 1461.2L439.2 1437.9L439.2 1484.5Z" fill="#1A007D" stroke="#1A007D" stroke-width="1.2" stroke-linejoin="round"/>
<path d="M396.2 1461.6L436.9 1438.3L436.9 1484.9Z" fill="#1A007D" stroke="#1A007D" stroke-width="1.2" stroke-linejoin="round"/>
<path d="M394.0 1462.0L434.7 1438.7L434.7 1485.3Z" fill="#1A007D" stroke="#1A007D" stroke-width="1.2" stroke-linejoin="round"/>
<path d="M391.7 1462.4L432.4 1439.1L432.4 1485.7Z" fill="#1A007D" stroke="#1A007D" stroke-width="1.2" stroke-linejoin="round"/>
<path d="M389.4 1462.7L430.1 1439.4L430.1 1486.0Z" fill="#1A007D" stroke="#1A007D" stroke-width="1.2" stroke-linejoin="round"/>
<path d="M387.2 1463.1L427.9 1439.8L427.9 1486.4Z" fill="#1A007D" stroke="#1A007D" stroke-width="1.2" stroke-linejoin="round"/>
<path d="M384.9 1463.5L425.6 1440.2L425.6 1486.8Z" fill="#1A007D" stroke="#1A007D" stroke-width="1.2" stroke-linejoin="round"/>
<path d="M382.7 1463.8L423.4 1440.5L423.4 1487.1Z" fill="#1A007D" stroke="#1A007D" stroke-width="1.2" stroke-linejoin="round"/>
<path d="M380.5 1464.2L421.2 1440.9L421.2 1487.5Z" fill="#1A007D" stroke="#1A007D" stroke-width="1.2" stroke-linejoin="round"/>
</g>
<g id="axes" stroke="#000" stroke-width="9" stroke-linecap="round" fill="none">
<path d="M306.5 24.5H2467.5V1626.5H306.5Z" stroke-linejoin="miter" stroke-linecap="butt"/>
<path d="M306.5 1626.5V1657.0" stroke-width="9.6"/>
<path d="M546.6 1626.5V1641.5" stroke-width="9.6"/>
<path d="M786.7 1626.5V1657.0" stroke-width="9.6"/>
<path d="M1026.8 1626.5V1641.5" stroke-width="9.6"/>
<path d="M1266.9 1626.5V1657.0" stroke-width="9.6"/>
<path d="M1507.1 1626.5V1641.5" stroke-width="9.6"/>
<path d="M1747.2 1626.5V1657.0" stroke-width="9.6"/>
<path d="M1987.3 1626.5V1641.5" stroke-width="9.6"/>
<path d="M2227.4 1626.5V1657.0" stroke-width="9.6"/>
<path d="M2467.5 1626.5V1641.5" stroke-width="9.6"/>
<path d="M306.5 1626.5H291.5" stroke-width="9.6"/>
<path d="M306.5 1466.3H276.0" stroke-width="9.6"/>
<path d="M306.5 1306.1H291.5" stroke-width="9.6"/>
<path d="M306.5 1145.9H276.0" stroke-width="9.6"/>
<path d="M306.5 985.7H291.5" stroke-width="9.6"/>
<path d="M306.5 825.5H276.0" stroke-width="9.6"/>
<path d="M306.5 665.3H291.5" stroke-width="9.6"/>
<path d="M306.5 505.1H276.0" stroke-width="9.6"/>
<path d="M306.5 344.9H291.5" stroke-width="9.6"/>
<path d="M306.5 184.7H276.0" stroke-width="9.6"/>
<path d="M306.5 24.5H291.5" stroke-width="9.6"/>
</g>
<g id="legend">
<rect x="323.1" y="42.9" width="1087.7" height="581.5" fill="#fff" stroke="#000" stroke-width="4"/>
<path d="M390 117.6H559" stroke="#000000" stroke-width="4" stroke-linecap="round" fill="none"/>
<rect x="456.7" y="99.8" width="35.6" height="35.6" rx="2" fill="#000000"/>
<path d="M390 210.4H559" stroke="#FF2026" stroke-width="4" stroke-linecap="round" fill="none"/>
<circle cx="474.5" cy="210.4" r="20.1" fill="#FF2026"/>
<path d="M390 303.2H559" stroke="#3300FF" stroke-width="4" stroke-linecap="round" fill="none"/>
<path d="M474.5 276.7L498.3 317.4L450.7 317.4Z" fill="#3300FF" stroke="#3300FF" stroke-width="1.2" stroke-linejoin="round"/>
<path d="M390 396.0H559" stroke="#FF00FF" stroke-width="4" stroke-linecap="round" fill="none"/>
<path d="M474.5 422.5L498.3 381.8L450.7 381.8Z" fill="#FF00FF" stroke="#FF00FF" stroke-width="1.2" stroke-linejoin="round"/>
<path d="M390 488.8H559" stroke="#008010" stroke-width="4" stroke-linecap="round" fill="none"/>
<path d="M474.5 464.6L499.2 488.8L474.5 513.0L449.8 488.8Z" fill="#008010" stroke="#008010" stroke-width="1.2" stroke-linejoin="round"/>
<path d="M390 581.6H559" stroke="#1A007D" stroke-width="4" stroke-linecap="round" fill="none"/>
<path d="M448.0 581.6L488.7 558.3L488.7 604.9Z" fill="#1A007D" stroke="#1A007D" stroke-width="1.2" stroke-linejoin="round"/>
</g>
<g id="labels">
<text transform="translate(287.14 1734.30) scale(0.9520 1)" style="font-size:78.8px;letter-spacing:0.000px">0</text>
<text transform="translate(747.60 1734.30) scale(0.9620 1)" style="font-size:78.8px;letter-spacing:-2.998px">50</text>
<text transform="translate(1208.49 1734.30) scale(0.9620 1)" style="font-size:78.8px;letter-spacing:-3.205px">100</text>
<text transform="translate(1688.49 1734.30) scale(0.9620 1)" style="font-size:78.8px;letter-spacing:-3.205px">150</text>
<text transform="translate(2167.65 1734.30) scale(0.9620 1)" style="font-size:78.8px;letter-spacing:-2.979px">200</text>
<text transform="translate(135.50 203.50) scale(0.9620 1)" style="font-size:78.8px;letter-spacing:-2.429px">400</text>
<text transform="translate(137.52 523.90) scale(0.9620 1)" style="font-size:78.8px;letter-spacing:-3.479px">300</text>
<text transform="translate(136.35 844.30) scale(0.9620 1)" style="font-size:78.8px;letter-spacing:-2.875px">200</text>
<text transform="translate(136.99 1164.70) scale(0.9620 1)" style="font-size:78.8px;letter-spacing:-3.205px">100</text>
<text transform="translate(215.86 1485.10) scale(0.9467 1)" style="font-size:78.8px;letter-spacing:0.000px">0</text>
<text transform="translate(1238.84 1864.00) scale(0.9620 1)" style="font-size:79px;letter-spacing:-1.867px">Z' (Ohm)</text>
<text transform="translate(577.93 143.20) scale(0.9620 1)" style="font-size:72.2px;letter-spacing:-2.053px">NiO/CuO MOF</text>
<text transform="translate(579.42 236.00) scale(0.9620 1)" style="font-size:72.2px;letter-spacing:-2.037px">1 wt% rGO-NiO/CuO MOF</text>
<text transform="translate(579.42 328.80) scale(0.9620 1)" style="font-size:72.2px;letter-spacing:-2.037px">2 wt% rGO-NiO/CuO MOF</text>
<text transform="translate(579.42 421.60) scale(0.9620 1)" style="font-size:72.2px;letter-spacing:-2.037px">3 wt% rGO-NiO/CuO MOF</text>
<text transform="translate(579.42 514.40) scale(0.9620 1)" style="font-size:72.2px;letter-spacing:-2.037px">4 wt% rGO-NiO/CuO MOF</text>
<text transform="translate(579.42 607.20) scale(0.9620 1)" style="font-size:72.2px;letter-spacing:-2.037px">5 wt% rGO-NiO/CuO MOF</text>
<text transform="translate(84.00 1048.61) rotate(-90) scale(0.9530 1)" style="font-size:79px;letter-spacing:0.000px">-Z'' (Ohm)</text>
<text class="ann" x="468.8" y="853">(c)</text>
</g>
</svg></body></html>
